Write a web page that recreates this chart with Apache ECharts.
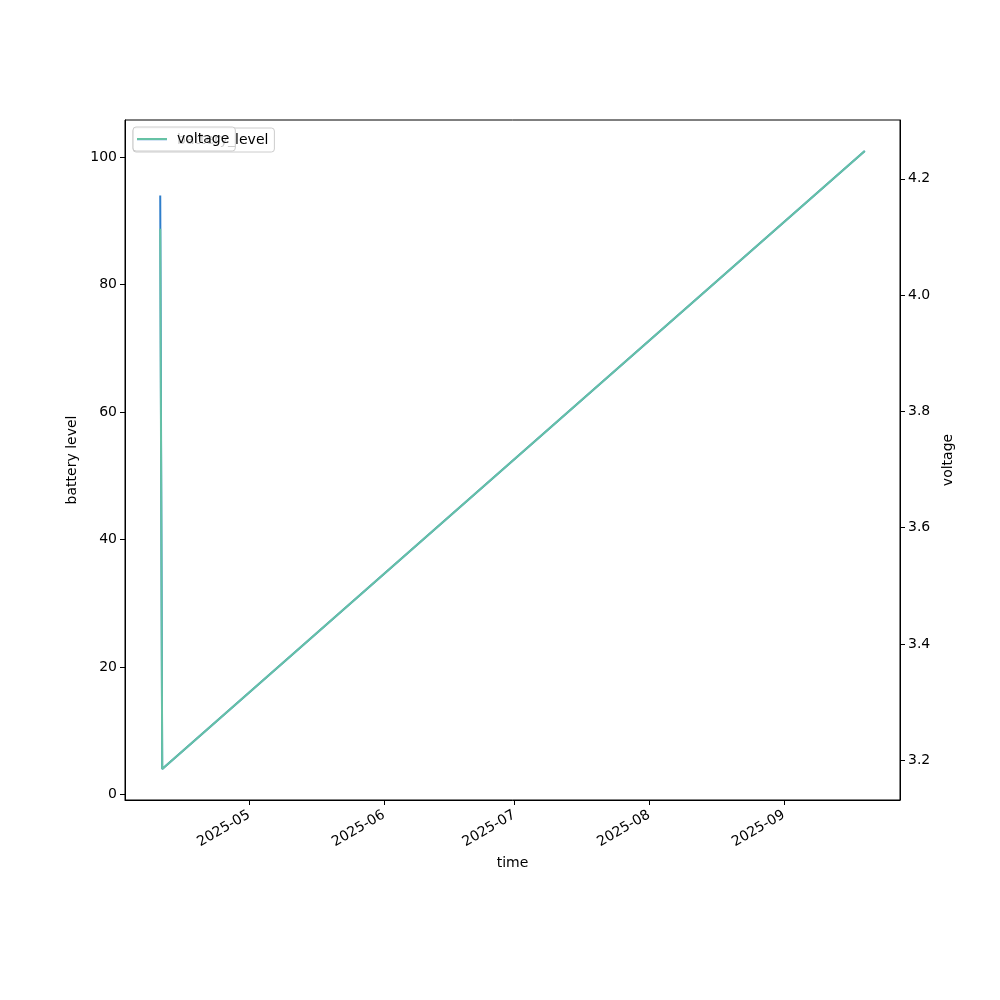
<!DOCTYPE html>
<html>
<head>
<meta charset="utf-8">
<script src="https://cdn.jsdelivr.net/npm/echarts@6/dist/echarts.min.js"></script>
<style>html,body{margin:0;padding:0;background:#fff}#c{width:1000px;height:1000px}</style>
</head>
<body>
<div id="c"></div>
<script>
// Data
var times = ['2025-04-10T13:00:00', '2025-04-11T00:00:00', '2025-09-19T15:00:00'];
var batteryLevel = [94, 4, 101];
var voltage = [4.114, 3.185, 4.248];
var monthTicks = ['2025-05-01', '2025-06-01', '2025-07-01', '2025-08-01', '2025-09-01'];
var batteryTicks = [0, 20, 40, 60, 80, 100];
var voltageTicks = [3.2, 3.4, 3.6, 3.8, 4.0, 4.2];

var ts = times.map(function (t) { return new Date(t).getTime(); });
var monthTs = monthTicks.map(function (t) { return new Date(t + 'T00:00:00').getTime(); });

function pad(lo, hi) { var r = hi - lo; return [lo - 0.05 * r, hi + 0.05 * r]; }
var xr = pad(Math.min.apply(null, ts), Math.max.apply(null, ts));
var br = pad(Math.min.apply(null, batteryLevel), Math.max.apply(null, batteryLevel));
var vr = pad(Math.min.apply(null, voltage), Math.max.apply(null, voltage));

var font = 'DejaVu Sans';
var axisLine = { show: true, onZero: false, lineStyle: { color: '#000', width: 1 } };
var blue = '#2f7ecb', green = '#66c2a5';

function legendCfg(name, top, z) {
  return {
    data: [name], left: 133, top: top, orient: 'vertical',
    backgroundColor: 'rgba(255,255,255,0.8)', borderColor: '#cccccc', borderWidth: 1, borderRadius: 3,
    padding: [5, 6, 5, 4], itemWidth: 30, itemHeight: 2, itemGap: 10, icon: 'rect',
    textStyle: { fontFamily: font, fontSize: 14, color: '#000', padding: [0, 0, 0, 5] }, z: z
  };
}

var chart = echarts.init(document.getElementById('c'), null, { renderer: 'canvas' });
chart.setOption({
  animation: false,
  backgroundColor: '#fff',
  textStyle: { fontFamily: font },
  grid: { left: 125, right: 100, top: 120, bottom: 200, show: true, borderColor: '#000', borderWidth: 1, containLabel: false },
  legend: [legendCfg('battery_level', 128, 4), legendCfg('voltage', 127, 6)],
  xAxis: {
    type: 'value', min: xr[0], max: xr[1],
    name: 'time', nameLocation: 'middle', nameGap: 56,
    nameTextStyle: { fontFamily: font, fontSize: 14, color: '#000' },
    axisLine: axisLine,
    axisTick: { show: true, length: 5, customValues: monthTs, lineStyle: { color: '#000' } },
    axisLabel: {
      customValues: monthTs, rotate: 30, margin: 14, fontFamily: font, fontSize: 14, color: '#000',
      formatter: function (v) { var d = new Date(v); var m = d.getMonth() + 1; return d.getFullYear() + '-' + (m < 10 ? '0' + m : m); }
    },
    splitLine: { show: false }
  },
  yAxis: [
    {
      type: 'value', position: 'left', min: br[0], max: br[1],
      name: 'battery level', nameLocation: 'middle', nameGap: 44, nameRotate: 90,
      nameTextStyle: { fontFamily: font, fontSize: 14, color: '#000' },
      axisLine: axisLine,
      axisTick: { show: true, length: 5, customValues: batteryTicks, lineStyle: { color: '#000' } },
      axisLabel: { customValues: batteryTicks, margin: 8, fontFamily: font, fontSize: 14, color: '#000' },
      splitLine: { show: false }
    },
    {
      type: 'value', position: 'right', min: vr[0], max: vr[1],
      name: 'voltage', nameLocation: 'middle', nameGap: 36, nameRotate: 90,
      nameTextStyle: { fontFamily: font, fontSize: 14, color: '#000' },
      axisLine: axisLine,
      axisTick: { show: true, length: 5, customValues: voltageTicks, lineStyle: { color: '#000' } },
      axisLabel: { customValues: voltageTicks, margin: 8, fontFamily: font, fontSize: 14, color: '#000',
        formatter: function (v) { return v.toFixed(1); } },
      splitLine: { show: false }
    }
  ],
  series: [
    {
      name: 'battery_level', type: 'line', yAxisIndex: 0, symbol: 'none', color: blue,
      lineStyle: { color: blue, width: 2 },
      data: ts.map(function (t, i) { return [t, batteryLevel[i]]; }), z: 2
    },
    {
      name: 'voltage', type: 'line', yAxisIndex: 1, symbol: 'none', color: green,
      lineStyle: { color: green, width: 2 },
      data: ts.map(function (t, i) { return [t, voltage[i]]; }), z: 3
    }
  ]
});
</script>
</body>
</html>
